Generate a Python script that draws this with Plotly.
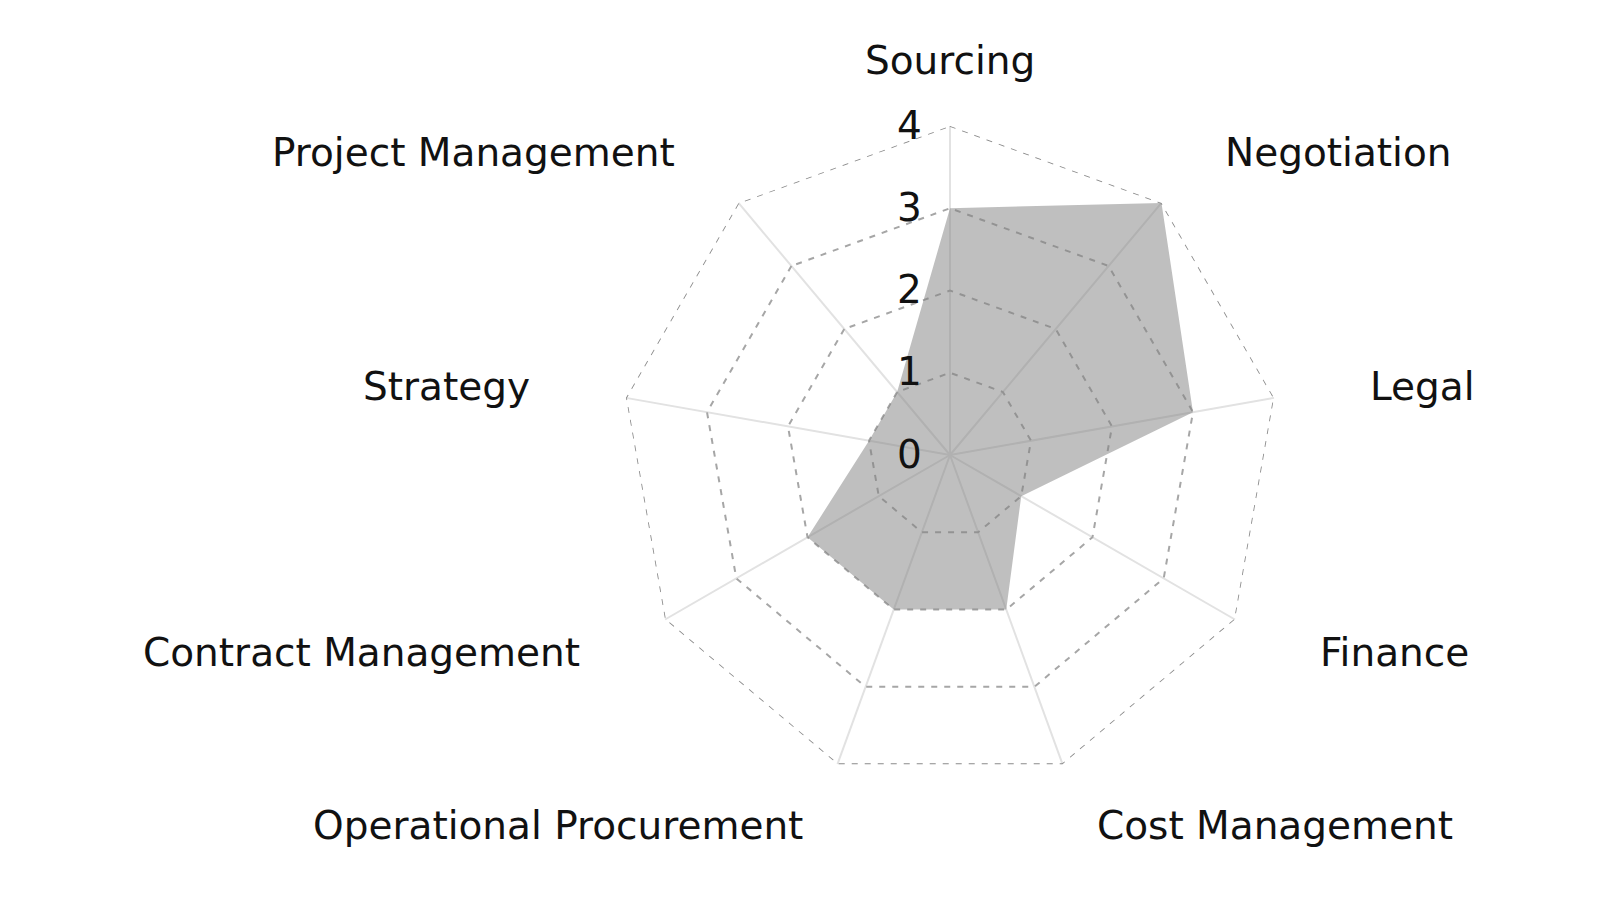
import math
import plotly.graph_objects as go

categories = ["Sourcing", "Negotiation", "Legal", "Finance", "Cost Management",
              "Operational Procurement", "Contract Management", "Strategy", "Project Management"]
values = [3, 4, 3, 1, 2, 2, 2, 1, 1]
radial_ticks = [0, 1, 2, 3, 4]

W, H = 1600, 900
cx_px, cy_px = 942, 447   # chart centre in pixels (from top-left)
R_px = 329                # outer radius in pixels
FONT = "DejaVu Sans"
TXT = "#111111"
FS = 39
DASH = "6px,7px"

fig = go.Figure()
fig.add_trace(go.Scatterpolar(
    r=values + values[:1],
    theta=categories + categories[:1],
    mode="lines",
    fill="toself",
    fillcolor="rgba(128,128,128,0.5)",
    line=dict(width=0, color="rgba(128,128,128,0)"),
    hoverinfo="skip",
    showlegend=False,
))
# outer dashed ring at the top tick
rmax = radial_ticks[-1]
fig.add_trace(go.Scatterpolar(
    r=[rmax] * (len(categories) + 1),
    theta=categories + categories[:1],
    mode="lines",
    line=dict(width=1.7, color="#8a8a8a", dash=DASH),
    hoverinfo="skip",
    showlegend=False,
))

dom_x = [(cx_px - R_px) / W, (cx_px + R_px) / W]
dom_y = [(H - cy_px - R_px) / H, (H - cy_px + R_px) / H]

fig.update_layout(
    width=W, height=H,
    margin=dict(l=0, r=0, t=0, b=0),
    paper_bgcolor="white",
    plot_bgcolor="white",
    font=dict(family=FONT, size=FS, color=TXT),
    polar=dict(
        domain=dict(x=dom_x, y=dom_y),
        bgcolor="white",
        gridshape="linear",
        angularaxis=dict(
            categoryorder="array",
            categoryarray=categories,
            rotation=90,
            direction="clockwise",
            showline=False,
            showgrid=True,
            gridcolor="#e2e2e2",
            gridwidth=1.5,
            showticklabels=False,
            ticks="",
        ),
        radialaxis=dict(
            range=[0, rmax],
            tickvals=radial_ticks,
            angle=90,
            side="counterclockwise",
            showline=False,
            showgrid=True,
            gridcolor="#a6a6a6",
            griddash=DASH,
            gridwidth=1.5,
            ticks="outside",
            ticklen=14,
            tickcolor="rgba(0,0,0,0)",
            tickangle=90,
            tickfont=dict(family=FONT, size=FS, color=TXT),
        ),
    ),
)

# category labels placed outside the outer ring
n = len(categories)
rx = 1.29 * R_px
ry = 1.20 * R_px
for i, name in enumerate(categories):
    a = 2 * math.pi * i / n
    s, c = math.sin(a), math.cos(a)
    x_px = cx_px + rx * s
    y_px = cy_px - ry * c
    if abs(s) < 0.05:
        xa = "center"
    elif s > 0:
        xa = "left"
    else:
        xa = "right"
    fig.add_annotation(
        x=x_px / W, y=1 - y_px / H, xref="paper", yref="paper",
        text=name, showarrow=False, xanchor=xa, yanchor="middle",
        font=dict(family=FONT, size=FS, color=TXT),
    )

fig.write_html("out.html")
